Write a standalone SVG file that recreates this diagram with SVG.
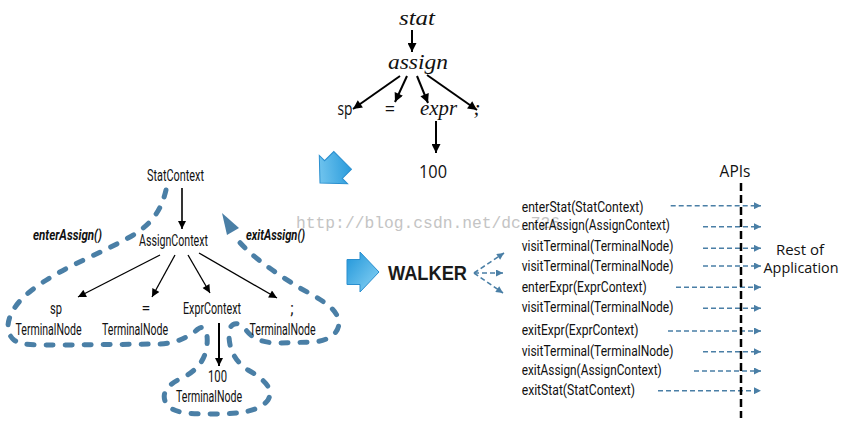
<svg xmlns="http://www.w3.org/2000/svg" width="843" height="427" viewBox="0 0 843 427">
<defs>
<style>
.it{font-family:"Liberation Serif",serif;font-style:italic;font-size:21px;fill:#111}
.s{font-family:"Open Sans","Liberation Sans",sans-serif;fill:#111}
.c{font-family:"Roboto","Liberation Sans",sans-serif;font-size:16px;fill:#111}
.l{font-family:"Roboto","Liberation Sans",sans-serif;font-size:15.5px;fill:#111}
.bi{font-family:"Roboto","Liberation Sans",sans-serif;font-size:14.5px;font-weight:bold;font-style:italic;fill:#111}
.k{stroke:#000;fill:none}
.bd{stroke:#4a7fa6;stroke-width:1.6;stroke-dasharray:5 3;fill:none}
.loop{stroke:#4a7fa6;stroke-width:5;stroke-dasharray:7 12;stroke-linecap:round;fill:none}
.ba{fill:url(#g);stroke:#2a8fcf;stroke-width:1}
.wm{font-family:"Liberation Mono",monospace;font-size:16.5px;fill:#c4c4c4}
</style>
<linearGradient id="g" x1="0" y1="0" x2="1" y2="1"><stop offset="0" stop-color="#1f95d9"/><stop offset="1" stop-color="#8cd4f5"/></linearGradient>
<marker id="a1" markerUnits="userSpaceOnUse" viewBox="0 0 10 10" refX="10" refY="5" markerWidth="11" markerHeight="9" orient="auto"><path d="M0,0L10,5L0,10z" fill="#000"/></marker>
<marker id="a2" markerUnits="userSpaceOnUse" viewBox="0 0 10 10" refX="10" refY="5" markerWidth="10" markerHeight="8" orient="auto"><path d="M0,0L10,5L0,10z" fill="#000"/></marker>
<marker id="a3" markerUnits="userSpaceOnUse" viewBox="0 0 10 10" refX="10" refY="5" markerWidth="8" markerHeight="7" orient="auto"><path d="M0,0L10,5L0,10z" fill="#4a7fa6"/></marker>
<path id="blk" d="M0,0L-19,-20L-19,-12.5L-32,-12.5L-32,12.5L-19,12.5L-19,20Z"/>
</defs>
<rect width="843" height="427" fill="#fff"/>

<g id="parse-tree">
<text class="it" x="417" y="25" text-anchor="middle" textLength="36" lengthAdjust="spacingAndGlyphs">stat</text>
<text class="it" x="418" y="69" text-anchor="middle" textLength="60" lengthAdjust="spacingAndGlyphs">assign</text>
<text class="s" font-size="18" x="345" y="115" text-anchor="middle" textLength="15" lengthAdjust="spacingAndGlyphs">sp</text>
<text class="s" font-size="18" x="390" y="115" text-anchor="middle">=</text>
<text class="it" x="438.5" y="115" text-anchor="middle" textLength="37" lengthAdjust="spacingAndGlyphs">expr</text>
<text class="it" x="477" y="115" text-anchor="middle">;</text>
<text class="s" font-size="18" x="433" y="178" text-anchor="middle" textLength="28" lengthAdjust="spacingAndGlyphs">100</text>
</g>

<g id="blue-arrows">
<use href="#blk" class="ba" transform="translate(320,183) rotate(135)"/>
<use href="#blk" class="ba" transform="translate(379,272)"/>
</g>

<g id="watermark">
<text class="wm" x="296" y="228" textLength="264" lengthAdjust="spacingAndGlyphs">http://blog.csdn.net/dc_726</text>
</g>

<g id="walk-path">
<path class="loop" d="M166,190 C161,212 150,226 128,238 C100,254 60,268 32,290 C8,308 2,330 14,340 C22,346 40,345 60,345 L160,344 C178,343 190,336 198,329 C206,323 208,335 207,345 C205,362 195,372 180,379 C165,386 160,396 168,406 C176,414 195,414 215,414 C240,414 260,411 268,400 C275,388 262,378 248,370 C234,361 229,348 229,335 C229,322 238,320 246,330 C253,339 262,343 280,343 L312,342 C332,341 342,330 338,318 C334,306 318,298 298,287 C278,274 252,258 236,238"/>
<polygon points="222,213 239,228 227,235" fill="#4a7fa6"/>
<text class="bi" x="33" y="240" textLength="69" lengthAdjust="spacingAndGlyphs">enterAssign()</text>
<text class="bi" x="246" y="240" textLength="59" lengthAdjust="spacingAndGlyphs">exitAssign()</text>
</g>

<g id="StatContext"><text class="c" x="175.5" y="181" text-anchor="middle" textLength="57" lengthAdjust="spacingAndGlyphs">StatContext</text></g>
<g id="AssignContext"><text class="c" x="173.5" y="246" text-anchor="middle" textLength="69" lengthAdjust="spacingAndGlyphs">AssignContext</text></g>
<g id="sp-node">
<text class="c" x="56" y="314" text-anchor="middle" textLength="12" lengthAdjust="spacingAndGlyphs">sp</text>
<text class="c" x="48.5" y="334.5" text-anchor="middle" textLength="66" lengthAdjust="spacingAndGlyphs">TerminalNode</text>
</g>
<g id="eq-node">
<text class="c" x="146" y="314" text-anchor="middle">=</text>
<text class="c" x="135" y="334.5" text-anchor="middle" textLength="66" lengthAdjust="spacingAndGlyphs">TerminalNode</text>
</g>
<g id="ExprContext"><text class="c" x="212" y="313.5" text-anchor="middle" textLength="58" lengthAdjust="spacingAndGlyphs">ExprContext</text></g>
<g id="semi-node">
<text class="c" x="292" y="314" text-anchor="middle">;</text>
<text class="c" x="282.5" y="334.5" text-anchor="middle" textLength="66" lengthAdjust="spacingAndGlyphs">TerminalNode</text>
</g>
<g id="n100-node">
<text class="c" x="217.5" y="382" text-anchor="middle" textLength="19" lengthAdjust="spacingAndGlyphs">100</text>
<text class="c" x="209" y="401.5" text-anchor="middle" textLength="66" lengthAdjust="spacingAndGlyphs">TerminalNode</text>
</g>

<g id="WALKER"><text x="388" y="280" font-family="'Liberation Sans',sans-serif" font-weight="bold" font-size="21" fill="#1a1a1a" textLength="79" lengthAdjust="spacingAndGlyphs">WALKER</text></g>

<g id="api-list">
<text class="l" x="521.7" y="211.5" textLength="121.7" lengthAdjust="spacingAndGlyphs">enterStat(StatContext)</text>
<text class="l" x="521.7" y="230" textLength="148.3" lengthAdjust="spacingAndGlyphs">enterAssign(AssignContext)</text>
<text class="l" x="521.7" y="251" textLength="151.7" lengthAdjust="spacingAndGlyphs">visitTerminal(TerminalNode)</text>
<text class="l" x="521.7" y="271" textLength="151.7" lengthAdjust="spacingAndGlyphs">visitTerminal(TerminalNode)</text>
<text class="l" x="521.7" y="291.5" textLength="125" lengthAdjust="spacingAndGlyphs">enterExpr(ExprContext)</text>
<text class="l" x="521.7" y="311.5" textLength="151.7" lengthAdjust="spacingAndGlyphs">visitTerminal(TerminalNode)</text>
<text class="l" x="521.7" y="335" textLength="116.7" lengthAdjust="spacingAndGlyphs">exitExpr(ExprContext)</text>
<text class="l" x="521.7" y="355.5" textLength="151.7" lengthAdjust="spacingAndGlyphs">visitTerminal(TerminalNode)</text>
<text class="l" x="521.7" y="375" textLength="140" lengthAdjust="spacingAndGlyphs">exitAssign(AssignContext)</text>
<text class="l" x="521.7" y="395" textLength="113.3" lengthAdjust="spacingAndGlyphs">exitStat(StatContext)</text>
</g>

<g id="APIs"><text class="s" font-size="15.5" x="735" y="177" text-anchor="middle">APIs</text></g>
<g id="Rest-of-Application">
<text class="s" font-size="15" x="800" y="254.5" text-anchor="middle">Rest of</text>
<text class="s" font-size="15" x="801" y="273" text-anchor="middle" textLength="75" lengthAdjust="spacingAndGlyphs">Application</text>
</g>

<g id="connectors">
<line class="k" stroke-width="2" x1="412" y1="30" x2="412" y2="52" marker-end="url(#a1)"/>
<line class="k" stroke-width="2" x1="400" y1="76" x2="353" y2="109" marker-end="url(#a1)"/>
<line class="k" stroke-width="2" x1="407" y1="76" x2="395" y2="102" marker-end="url(#a1)"/>
<line class="k" stroke-width="2" x1="417" y1="76" x2="428" y2="103" marker-end="url(#a1)"/>
<line class="k" stroke-width="2" x1="427" y1="75" x2="477" y2="110" marker-end="url(#a1)"/>
<line class="k" stroke-width="2" x1="436" y1="121" x2="436" y2="153" marker-end="url(#a1)"/>
<line class="k" stroke-width="1.6" x1="182" y1="188" x2="182" y2="229" marker-end="url(#a2)"/>
<line class="k" stroke-width="1.3" x1="160" y1="255" x2="78" y2="297" marker-end="url(#a2)"/>
<line class="k" stroke-width="1.3" x1="175" y1="255" x2="152" y2="297" marker-end="url(#a2)"/>
<line class="k" stroke-width="1.3" x1="188" y1="255" x2="210" y2="293" marker-end="url(#a2)"/>
<line class="k" stroke-width="1.3" x1="199" y1="253" x2="277" y2="298" marker-end="url(#a2)"/>
<line class="k" stroke-width="2" x1="219" y1="323" x2="219" y2="366" marker-end="url(#a2)"/>
<line class="bd" x1="474" y1="273" x2="504" y2="253" marker-end="url(#a3)"/>
<line class="bd" x1="474" y1="273" x2="503" y2="273" marker-end="url(#a3)"/>
<line class="bd" x1="474" y1="273" x2="503" y2="293" marker-end="url(#a3)"/>
<line class="bd" x1="670.7" y1="205.7" x2="761" y2="205.7" marker-end="url(#a3)"/>
<line class="bd" x1="703" y1="226.7" x2="761" y2="226.7" marker-end="url(#a3)"/>
<line class="bd" x1="703" y1="248.3" x2="761" y2="248.3" marker-end="url(#a3)"/>
<line class="bd" x1="703" y1="266" x2="761" y2="266" marker-end="url(#a3)"/>
<line class="bd" x1="676" y1="287.3" x2="761" y2="287.3" marker-end="url(#a3)"/>
<line class="bd" x1="703" y1="308.3" x2="761" y2="308.3" marker-end="url(#a3)"/>
<line class="bd" x1="668" y1="331" x2="761" y2="331" marker-end="url(#a3)"/>
<line class="bd" x1="703" y1="351.7" x2="761" y2="351.7" marker-end="url(#a3)"/>
<line class="bd" x1="694" y1="371" x2="761" y2="371" marker-end="url(#a3)"/>
<line class="bd" x1="658" y1="390.7" x2="761" y2="390.7" marker-end="url(#a3)"/>
<line x1="741" y1="183" x2="741" y2="418" stroke="#000" stroke-width="2.5" stroke-dasharray="8 4"/>
</g>
</svg>
